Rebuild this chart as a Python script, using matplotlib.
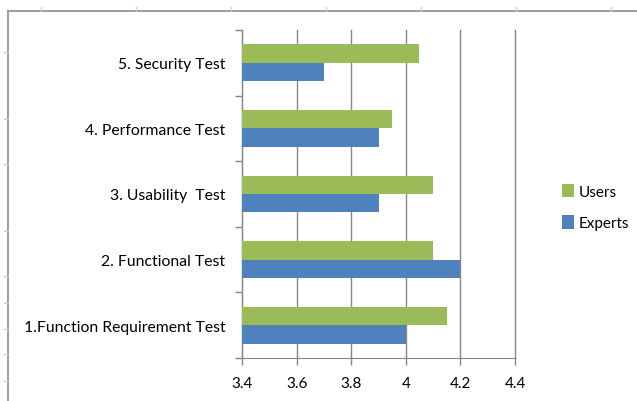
import matplotlib.pyplot as plt
import numpy as np
from matplotlib.lines import Line2D

categories = ["1.Function Requirement Test", "2. Functional Test", "3. Usability  Test",
              "4. Performance Test", "5. Security Test"]
experts = [4.0, 4.2, 3.9, 3.9, 3.7]
users = [4.15, 4.1, 4.1, 3.95, 4.05]
xticks = [3.4, 3.6, 3.8, 4.0, 4.2, 4.4]
xtick_labels = ["3.4", "3.6", "3.8", "4", "4.2", "4.4"]

plt.rcParams['font.family'] = ['Lato', 'DejaVu Sans']

W, H = 637, 402
fig = plt.figure(figsize=(W / 100, H / 100), dpi=100)
ax = fig.add_axes([242 / W, 1 - 359 / H, (515 - 242) / W, (359 - 31) / H])

y = np.arange(len(categories))
h = 0.28
ax.barh(y + h / 2, users, height=h, left=0, color="#9BBB59", label="Users", zorder=3)
ax.barh(y - h / 2, experts, height=h, left=0, color="#4F81BD", label="Experts", zorder=3)

ax.set_xlim(3.4, 4.4)
ax.set_ylim(-0.5, len(categories) - 0.5)
ax.set_xticks(xticks)
ax.set_xticklabels(xtick_labels, fontsize=11)
ax.set_yticks(np.arange(len(categories) + 1) - 0.5, minor=False)
ax.set_yticklabels([])
ax.set_yticks(y, minor=True)
ax.set_yticklabels(categories, minor=True, fontsize=11.3)
ax.tick_params(axis="y", which="minor", length=0, pad=12)
ax.tick_params(axis="y", which="major", length=5, color="#868686", width=1)
ax.tick_params(axis="x", length=5, color="#868686", width=1, pad=8)

ax.grid(axis="x", color="#868686", linewidth=1, zorder=0)
for line in ax.get_xgridlines():
    line.set_clip_on(False)
for s in ["top", "right"]:
    ax.spines[s].set_visible(False)
ax.spines["left"].set_color("#868686")
ax.spines["bottom"].set_color("#868686")

handles, labels = ax.get_legend_handles_labels()
fig.legend(handles, labels, loc="center left", bbox_to_anchor=(548 / W, 1 - 208 / H),
           frameon=False, fontsize=11, handlelength=0.8, handleheight=1.0,
           handletextpad=0.3, labelspacing=1.1)

# outer frame of the spreadsheet
fig.add_artist(Line2D([8 / W, 8 / W], [0, 1 - 12 / H], color="#8c8c8c", lw=1.2))
fig.add_artist(Line2D([8 / W, 1], [1 - 12 / H, 1 - 12 / H], color="#8c8c8c", lw=1.2))
for px in [41, 136, 231, 326, 421, 516, 611]:
    fig.add_artist(Line2D([px / W, px / W], [1 - 12 / H, 1 - 8 / H], color="#c8cde0", lw=1))
for py in [53, 120, 165, 232, 277, 304, 330, 355, 382]:
    fig.add_artist(Line2D([4 / W, 8 / W], [1 - py / H, 1 - py / H], color="#c8cde0", lw=1))

fig.savefig("out.png", dpi=100)
